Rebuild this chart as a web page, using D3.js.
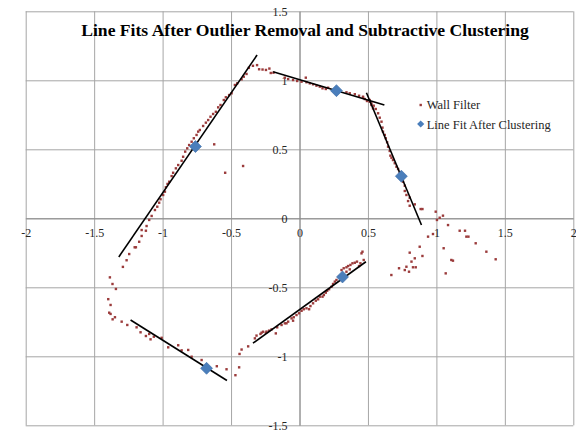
<!DOCTYPE html>
<html>
<head>
    <meta charset="utf-8">
    <title>Line Fits After Outlier Removal and Subtractive Clustering</title>
    <script src="https://d3js.org/d3.v7.min.js"></script>
    <style>
        body { margin: 0; background: #fff; }
        text { font-family: "Liberation Serif", "Times New Roman", serif; }
    </style>
</head>
<body>
    <svg id="chart" width="576" height="433"></svg>

    <script>
        // tick values for both axes
        const xTicks = [-2, -1.5, -1, -0.5, 0, 0.5, 1, 1.5, 2];
        const yTicks = [-1.5, -1, -0.5, 0, 0.5, 1, 1.5];

        // "Wall Filter" points (x, y)
        const wallFilter = [
            // top corner
            [-0.37, 1.09], [-0.34, 1.105], [-0.31, 1.11], [-0.295, 1.08], [-0.27, 1.078],
            [-0.245, 1.075], [-0.22, 1.085], [-0.21, 1.053], [-0.19, 1.055],
            // upper left wall
            [-0.387, 1.046], [-0.407, 1.026], [-0.423, 1.007], [-0.455, 0.978], [-0.472, 0.966],
            [-0.496, 0.906], [-0.514, 0.893], [-0.538, 0.877], [-0.553, 0.857], [-0.577, 0.821],
            [-0.594, 0.804], [-0.611, 0.772], [-0.631, 0.756], [-0.65, 0.736], [-0.667, 0.712],
            [-0.684, 0.693], [-0.704, 0.669], [-0.728, 0.64], [-0.74, 0.628], [-0.752, 0.604],
            [-0.772, 0.58], [-0.788, 0.555], [-0.806, 0.531], [-0.82, 0.507], [-0.835, 0.483],
            [-0.85, 0.446], [-0.861, 0.417], [-0.886, 0.386], [-0.903, 0.362], [-0.923, 0.33],
            [-0.934, 0.306], [-0.952, 0.265], [-0.964, 0.249], [-0.976, 0.225], [-0.983, 0.193],
            [-0.996, 0.169], [-1.015, 0.138], [-1.025, 0.113], [-1.039, 0.084], [-1.056, 0.06],
            [-1.08, 0.017], [-1.098, -0.012], [-1.117, -0.056], [-1.122, -0.09], [-1.153, -0.085],
            [-1.153, -0.128], [-1.171, -0.17], [-1.195, -0.21], [-1.204, -0.21], [-1.244, -0.259],
            [-1.263, -0.304], [-1.29, -0.352],
            // outliers inside
            [-0.623, 0.536], [-0.543, 0.33], [-0.412, 0.379],
            // lower left corner
            [-1.385, -0.428], [-1.366, -0.476], [-1.341, -0.512], [-1.397, -0.586], [-1.38, -0.628],
            [-1.39, -0.684], [-1.38, -0.693], [-1.365, -0.732], [-1.348, -0.717], [-1.299, -0.749],
            [-1.258, -0.773],
            // lower left wall
            [-1.19, -0.79], [-1.161, -0.826], [-1.122, -0.853], [-1.098, -0.838], [-1.088, -0.877],
            [-1.064, -0.858], [-1.007, -0.866], [-0.959, -0.935], [-0.886, -0.92], [-0.861, -0.957],
            [-0.813, -0.954], [-0.788, -1.003], [-0.715, -1.027], [-0.604, -1.072], [-0.533, -1.094],
            [-0.468, -1.137], [-0.441, -1.08], [-0.438, -0.983], [-0.423, -0.951], [-0.375, -0.928],
            // lower right wall
            [-0.326, -0.87], [-0.314, -0.85], [-0.285, -0.838], [-0.277, -0.829], [-0.266, -0.822],
            [-0.246, -0.829], [-0.241, -0.821], [-0.222, -0.814], [-0.204, -0.805], [-0.173, -0.834],
            [-0.163, -0.79], [-0.131, -0.773], [-0.107, -0.761], [-0.095, -0.761], [-0.083, -0.749],
            [-0.058, -0.725], [-0.047, -0.742], [-0.042, -0.717], [-0.022, -0.701], [-0.003, -0.688],
            [0.015, -0.67], [0.031, -0.659], [0.051, -0.652], [0.07, -0.659], [0.08, -0.636],
            [0.099, -0.616], [0.119, -0.597], [0.136, -0.587], [0.148, -0.568], [0.168, -0.568],
            [0.178, -0.556], [0.192, -0.539], [0.202, -0.525], [0.216, -0.514], [0.234, -0.496],
            [0.245, -0.476], [0.258, -0.459], [0.27, -0.447], [0.289, -0.423], [0.307, -0.375],
            [0.323, -0.362], [0.343, -0.355], [0.355, -0.346], [0.372, -0.338], [0.387, -0.326],
            [0.404, -0.322], [0.42, -0.314], [0.435, -0.346], [0.445, -0.326], [0.453, -0.254],
            [0.46, -0.242], [0.469, -0.302], [0.343, -0.387], [0.367, -0.37],
            // scatter right of the room
            [0.671, -0.411], [0.727, -0.362], [0.769, -0.375], [0.781, -0.351], [0.8, -0.387],
            [0.818, -0.314], [0.829, -0.355], [0.849, -0.355], [0.805, -0.249], [0.842, -0.29],
            [0.898, -0.273], [0.878, -0.206], [0.939, -0.133], [0.975, -0.114], [1.053, -0.217],
            [1.068, -0.399], [1.109, -0.302], [1.121, -0.307], [1.17, -0.09], [1.209, -0.09],
            [1.219, -0.133], [1.234, -0.133], [1.287, -0.181], [1.365, -0.242], [1.433, -0.297],
            [0.995, 0.048], [1.024, 0.004], [1.048, 0.019], [1.004, -0.012], [1.085, -0.049],
            // right wall
            [0.464, 0.881], [0.513, 0.857], [0.525, 0.833], [0.542, 0.816], [0.557, 0.792],
            [0.574, 0.761], [0.586, 0.729], [0.599, 0.7], [0.606, 0.657], [0.61, 0.628],
            [0.623, 0.604], [0.63, 0.58], [0.64, 0.551], [0.647, 0.519], [0.659, 0.488],
            [0.664, 0.454], [0.672, 0.439], [0.683, 0.422], [0.696, 0.399], [0.708, 0.374],
            [0.72, 0.357], [0.732, 0.333], [0.756, 0.265], [0.769, 0.236], [0.769, 0.198],
            [0.781, 0.169], [0.805, 0.149], [0.793, 0.125], [0.805, 0.091], [0.842, 0.101],
            [0.885, 0.067], [0.898, 0.067],
            // top wall
            [-0.107, 1.019], [-0.083, 1.009], [-0.047, 1.002], [-0.017, 0.995], [0.015, 0.99],
            [0.046, 1.019], [0.051, 0.986], [0.075, 0.978], [0.099, 0.971], [0.124, 0.961],
            [0.148, 0.954], [0.168, 0.942], [0.192, 0.937], [0.209, 0.946], [0.343, 0.913],
            [0.367, 0.906], [0.404, 0.899], [0.435, 0.888], [0.464, 0.874], [0.477, 0.864],
            [0.493, 0.85], [0.513, 0.845], [0.525, 0.821], [0.537, 0.797]
        ];

        // cluster centres ("Line Fit After Clustering")
        const clusterCentres = [
            [-0.76, 0.52], [0.27, 0.925], [0.744, 0.305], [0.314, -0.425], [-0.679, -1.087]
        ];

        // fitted line segments [x1, y1, x2, y2]
        const fitLines = [
            [-1.32, -0.28, -0.31, 1.183],
            [-0.193, 1.062, 0.62, 0.821],
            [0.489, 0.91, 0.891, -0.049],
            [-0.34, -0.905, 0.485, -0.315],
            [-1.234, -0.737, -0.53, -1.175]
        ];

        const title = 'Line Fits After Outlier Removal and Subtractive Clustering';
        const seriesNames = ['Wall Filter', 'Line Fit After Clustering'];

        const svg = d3.select('#chart');

        const x = d3.scaleLinear().domain([-2, 2]).range([25.7, 573.3]);
        const y = d3.scaleLinear().domain([-1.5, 1.5]).range([425.3, 11.3]);

        // plain hyphen minus, like the original
        const fmt = d => String(d);

        // gridlines
        svg.append('g')
            .attr('transform', `translate(0,${y(-1.5)})`)
            .call(d3.axisBottom(x).tickValues(xTicks).tickSize(y(1.5) - y(-1.5)).tickFormat(''))
            .call(g => g.select('.domain').remove())
            .selectAll('line').attr('stroke', '#a6a6a6');
        svg.append('g')
            .attr('transform', `translate(${x(-2)},0)`)
            .call(d3.axisLeft(y).tickValues(yTicks).tickSize(x(-2) - x(2)).tickFormat(''))
            .call(g => g.select('.domain').remove())
            .selectAll('line').attr('stroke', '#a6a6a6');

        // axes crossing at zero
        const xAxis = svg.append('g')
            .attr('transform', `translate(0,${y(0)})`)
            .call(d3.axisBottom(x).tickValues(xTicks).tickSize(0).tickPadding(10).tickFormat(fmt));
        const yAxis = svg.append('g')
            .attr('transform', `translate(${x(0)},0)`)
            .call(d3.axisLeft(y).tickValues(yTicks).tickSize(0).tickPadding(12).tickFormat(fmt));
        [xAxis, yAxis].forEach(a => {
            a.select('.domain').attr('stroke', '#8c8c8c');
            a.selectAll('text')
                .attr('font-family', '"Liberation Serif", serif')
                .attr('font-size', 12)
                .attr('fill', '#262626');
        });

        // wall filter points
        svg.append('g').selectAll('rect')
            .data(wallFilter)
            .join('rect')
            .attr('x', d => x(d[0]) - 1.2)
            .attr('y', d => y(d[1]) - 1.2)
            .attr('width', 2.4)
            .attr('height', 2.4)
            .attr('fill', '#9b3b3b');

        // fitted lines
        svg.append('g').selectAll('line')
            .data(fitLines)
            .join('line')
            .attr('x1', d => x(d[0]))
            .attr('y1', d => y(d[1]))
            .attr('x2', d => x(d[2]))
            .attr('y2', d => y(d[3]))
            .attr('stroke', '#000')
            .attr('stroke-width', 1.6);

        // cluster diamonds
        const diamond = d3.symbol(d3.symbolSquare, 72);
        svg.append('g').selectAll('path')
            .data(clusterCentres)
            .join('path')
            .attr('d', diamond)
            .attr('transform', d => `translate(${x(d[0])},${y(d[1])}) rotate(45)`)
            .attr('fill', '#4a7ebb')
            .attr('stroke', '#3f6fa8')
            .attr('stroke-width', 0.6);

        // title
        svg.append('text')
            .attr('x', 305)
            .attr('y', 36)
            .attr('text-anchor', 'middle')
            .attr('font-size', 17.6)
            .attr('font-weight', 'bold')
            .attr('fill', '#000')
            .text(title);

        // legend
        const legend = svg.append('g').attr('transform', 'translate(420.7,0)');
        legend.append('rect')
            .attr('x', -1.2).attr('y', 105 - 1.2)
            .attr('width', 2.4).attr('height', 2.4)
            .attr('fill', '#9b3b3b');
        legend.append('path')
            .attr('d', d3.symbol(d3.symbolSquare, 26))
            .attr('transform', 'translate(0,124) rotate(45)')
            .attr('fill', '#4a7ebb');
        legend.selectAll('text.lg')
            .data(seriesNames)
            .join('text')
            .attr('class', 'lg')
            .attr('x', 6)
            .attr('y', (d, i) => 105 + i * 19.5)
            .attr('dy', '0.35em')
            .attr('font-size', 12.5)
            .attr('fill', '#262626')
            .text(d => d);
    </script>
</body>
</html>
